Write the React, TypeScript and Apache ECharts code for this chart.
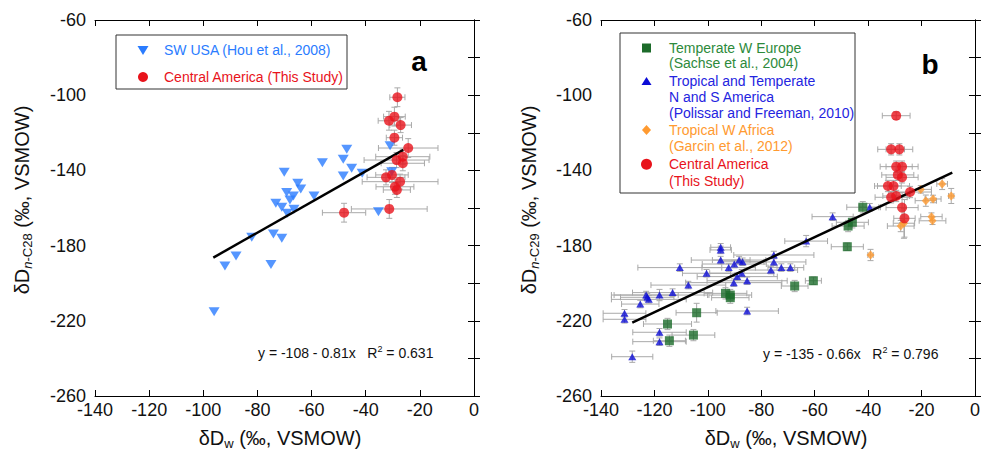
import React, { useEffect, useRef } from "react";
import * as echarts from "echarts";

// ---------- Data ----------
// Panel a: SW USA (Hou et al., 2008) [dDw, dD n-C28]
const swUsaA: number[][] = [
  [-47.0, -128.8], [-48.3, -134.1], [-56.0, -135.9], [-45.2, -138.9], [-70.1, -141.0],
  [-48.3, -143.0], [-41.3, -141.5], [-31.0, -126.9], [-30.4, -140.7], [-65.1, -146.9],
  [-64.0, -149.9], [-69.2, -151.8], [-66.7, -153.6], [-68.0, -155.7], [-59.1, -153.6],
  [-73.2, -157.5], [-71.0, -159.6], [-66.5, -160.7], [-69.0, -162.8], [-35.3, -162.0],
  [-82.1, -175.6], [-74.1, -173.8], [-71.0, -176.1], [-87.9, -185.5], [-92.0, -190.9],
  [-75.0, -190.0], [-96.0, -215.2],
];
// Panel a: Central America (This Study) [x, y, xErr, yErr]
const centralA: number[][] = [
  [-28.3, -101.1, 2.8, 5], [-31.4, -113.6, 4, 5], [-29.4, -111.4, 4, 5], [-27.1, -115.9, 4, 4],
  [-29.4, -122.6, 3, 4], [-24.3, -128.1, 11, 5], [-28.6, -134.5, 12, 4], [-26.3, -132.7, 10, 4],
  [-26.3, -136.2, 8, 4], [-32.5, -143.7, 7, 4], [-30.3, -142.4, 6, 4], [-27.3, -146.0, 14, 4],
  [-29.2, -148.7, 7, 4], [-28.5, -150.4, 5, 4], [-48.0, -162.5, 8, 5], [-31.3, -160.5, 14, 5],
];
const lineA: number[][] = [[-96.3, -186.4], [-26.1, -129.1]];

// Panel b: Temperate W Europe (Sachse et al., 2004) [x, y, xErr, yErr]
const europeB: number[][] = [
  [-93.4, -205.4, 8, 3], [-91.6, -206.3, 8, 3], [-91.6, -207.7, 7, 3], [-104.2, -215.7, 7.7, 5],
  [-115.1, -221.7, 9, 3], [-105.4, -227.6, 8, 3], [-114.4, -230.6, 6, 3], [-67.5, -201.5, 5, 3],
  [-60.5, -198.7, 3, 2], [-42.0, -159.6, 6, 3], [-45.9, -167.6, 6, 3], [-47.5, -169.6, 6, 3],
  [-47.8, -180.6, 6, 2],
];
// Panel b: Tropical and Temperate N and S America (Polissar and Freeman, 2010)
const americasB: number[][] = [
  [-95.2, -180.9, 3.7, 2], [-95.2, -182.3, 4, 2], [-95.2, -187.7, 11, 2], [-110.5, -191.7, 15.7, 2],
  [-92.2, -191.7, 10, 2], [-90.1, -189.8, 12, 2], [-88.3, -187.7, 10, 2], [-87.0, -188.6, 8, 2],
  [-100.5, -194.7, 9, 2], [-89.0, -196.5, 15, 2], [-87.3, -194.7, 12, 2], [-90.3, -199.7, 18, 2],
  [-85.3, -198.7, 15, 2], [-75.3, -185.0, 15, 2], [-75.3, -188.7, 12, 2], [-76.4, -193.0, 10, 2],
  [-72.5, -191.7, 5, 2], [-69.1, -191.7, 5, 2], [-107.3, -201.0, 14, 2], [-113.2, -205.0, 15, 2],
  [-118.1, -206.3, 18, 3], [-123.1, -206.3, 12, 2], [-122.7, -207.5, 10, 2], [-122.1, -208.6, 14, 2],
  [-125.3, -211.1, 7, 2], [-131.2, -216.0, 8, 2], [-131.2, -219.2, 8, 2], [-85.3, -214.8, 11.7, 2],
  [-118.1, -226.1, 10, 2], [-118.1, -231.1, 10, 2], [-128.3, -239.1, 7.7, 3], [-53.3, -164.6, 7.7, 2],
  [-39.4, -159.6, 4, 2], [-63.2, -177.6, 8, 3],
];
// Panel b: Tropical W Africa (Garcin et al., 2012)
const africaB: number[][] = [
  [-20.3, -150.1, 4, 2], [-12.3, -147.2, 2, 3], [-8.9, -153.6, 1, 4], [-18.4, -156.1, 4, 3],
  [-15.7, -155.2, 3, 2], [-16.3, -164.6, 4, 2], [-15.9, -166.8, 5, 2], [-27.8, -169.6, 5, 3],
  [-26.6, -168.1, 4, 8], [-39.1, -185.0, 1, 3],
];
// Panel b: Central America (This Study)
const centralB: number[][] = [
  [-29.5, -110.9, 5.2, 2], [-31.4, -128.8, 5, 3], [-28.3, -128.8, 5, 3], [-29.5, -138.0, 6, 3],
  [-27.3, -138.0, 6, 3], [-27.3, -143.7, 6, 3], [-28.9, -142.4, 6, 3], [-32.6, -148.3, 5, 3],
  [-30.5, -148.3, 6, 3], [-31.4, -154.3, 6, 3], [-29.5, -153.6, 5, 3], [-24.3, -151.5, 8, 3],
  [-27.3, -159.8, 6, 8], [-26.4, -165.5, 4, 10],
];
const lineB: number[][] = [[-128.3, -221.0], [-8.5, -141.2]];

const xTicks = { min: -140, max: 0, interval: 20 };
const yTicks = { min: -260, max: -60, interval: 20, labelStep: 40 };

const FONT = 'Arial, "Liberation Sans", Helvetica, sans-serif';
const C_BLUE_A = "#2a7cff";
const C_RED = "#e8131b";
const C_GREEN = "#1c6b2a";
const C_GREEN_T = "#2d8a3b";
const C_BLUE_B = "#0c0cd6";
const C_BLUE_BT = "#2424e0";
const C_ORANGE = "#ff9a30";
const C_ERR = "#a9a9a9";

function errorSeries(data: number[][], axisIndex: number) {
  return {
    type: "custom",
    xAxisIndex: axisIndex * 2,
    yAxisIndex: axisIndex * 2,
    silent: true,
    z: 1,
    encode: { x: 0, y: 1 },
    data: data.map((d) => [d[0], d[1], d[2], d[3]]),
    renderItem: (params: any, api: any) => {
      const x = api.value(0), y = api.value(1), xe = api.value(2), ye = api.value(3);
      const l = api.coord([x - xe, y]);
      const r = api.coord([x + xe, y]);
      const t = api.coord([x, y + ye]);
      const b = api.coord([x, y - ye]);
      const cap = 3;
      const style = { stroke: C_ERR, lineWidth: 1 };
      const ln = (x1: number, y1: number, x2: number, y2: number) => ({
        type: "line", shape: { x1, y1, x2, y2 }, style,
      });
      return {
        type: "group",
        children: [
          ln(l[0], l[1], r[0], r[1]),
          ln(l[0], l[1] - cap, l[0], l[1] + cap),
          ln(r[0], r[1] - cap, r[0], r[1] + cap),
          ln(t[0], t[1], b[0], b[1]),
          ln(t[0] - cap, t[1], t[0] + cap, t[1]),
          ln(b[0] - cap, b[1], b[0] + cap, b[1]),
        ],
      };
    },
  };
}

function axesFor(gridIndex: number) {
  const base = {
    gridIndex,
    axisLine: { lineStyle: { color: "#000", width: 1 } },
    axisTick: { inside: true, length: 6, lineStyle: { color: "#000" } },
    splitLine: { show: false },
  };
  const xs = [
    {
      ...base, type: "value", position: "bottom", ...xTicks,
      axisLabel: { fontFamily: FONT, fontSize: 18, color: "#111", margin: 5 },
    },
    { ...base, type: "value", position: "top", ...xTicks, axisLabel: { show: false } },
  ];
  const ys = [
    {
      ...base, type: "value", position: "left",
      min: yTicks.min, max: yTicks.max, interval: yTicks.interval,
      axisLabel: {
        fontFamily: FONT, fontSize: 18, color: "#111", margin: 9,
        formatter: (v: number) => ((v - yTicks.min) % yTicks.labelStep === 0 ? String(v) : ""),
      },
    },
    {
      ...base, type: "value", position: "right",
      min: yTicks.min, max: yTicks.max, interval: yTicks.interval, axisLabel: { show: false },
    },
  ];
  return { xs, ys };
}

function richTitle(x: number, y: number, sub: string, italicN: boolean, rotate: boolean) {
  const text = italicN
    ? `{m|δD}{si|n}{s|${sub}}{m| (‰, VSMOW)}`
    : `{m|δD}{s|${sub}}{m| (‰, VSMOW)}`;
  return {
    type: "text",
    x, y,
    rotation: rotate ? Math.PI / 2 : 0,
    style: {
      text,
      align: "center",
      verticalAlign: "middle",
      rich: {
        m: { fontFamily: FONT, fontSize: 20, fill: "#111", lineHeight: 24 },
        s: { fontFamily: FONT, fontSize: 13, fill: "#111", lineHeight: 13, verticalAlign: "bottom" },
        si: { fontFamily: FONT, fontSize: 13, fontStyle: "italic", fill: "#111", lineHeight: 13, verticalAlign: "bottom" },
      },
    },
  };
}

function eqText(x: number, y: number, eq: string, r2: string) {
  return {
    type: "text",
    x, y,
    style: {
      text: `{m|${eq}   R}{p|2}{m| = ${r2}}`,
      align: "left",
      verticalAlign: "middle",
      rich: {
        m: { fontFamily: FONT, fontSize: 14, fill: "#111", lineHeight: 18 },
        p: { fontFamily: FONT, fontSize: 9, fill: "#111", lineHeight: 9, verticalAlign: "top" },
      },
    },
  };
}

function legText(x: number, y: number, text: string, fill: string) {
  return {
    type: "text", x, y,
    style: { text, fill, fontFamily: FONT, fontSize: 14, verticalAlign: "middle", align: "left" },
  };
}

export default function App() {
  const ref = useRef<HTMLDivElement>(null);
  useEffect(() => {
    if (!ref.current) return;
    const chart = echarts.init(ref.current, undefined, { renderer: "svg" });
    const a = axesFor(0);
    const b = axesFor(1);
    const option: any = {
      animation: false,
      backgroundColor: "#fff",
      grid: [
        { left: 95, top: 20, width: 379, height: 376 },
        { left: 601, top: 20, width: 378, height: 376 },
      ],
      xAxis: [...a.xs, ...b.xs],
      yAxis: [...a.ys, ...b.ys],
      series: [
        // panel a
        errorSeries(centralA, 0),
        {
          type: "scatter", name: "SW USA", xAxisIndex: 0, yAxisIndex: 0, z: 2,
          symbol: "triangle", symbolRotate: 180, symbolSize: [11, 9],
          itemStyle: { color: C_BLUE_A }, data: swUsaA,
        },
        {
          type: "line", xAxisIndex: 0, yAxisIndex: 0, z: 3, symbol: "none",
          lineStyle: { color: "#000", width: 2.5 }, data: lineA,
        },
        {
          type: "scatter", name: "Central America", xAxisIndex: 0, yAxisIndex: 0, z: 4,
          symbol: "circle", symbolSize: 10, itemStyle: { color: C_RED },
          data: centralA.map((d) => [d[0], d[1]]),
        },
        // panel b
        errorSeries(europeB, 1),
        errorSeries(americasB, 1),
        errorSeries(africaB, 1),
        errorSeries(centralB, 1),
        {
          type: "scatter", xAxisIndex: 2, yAxisIndex: 2, z: 2,
          symbol: "triangle", symbolSize: [8, 7], itemStyle: { color: C_BLUE_B },
          data: americasB.map((d) => [d[0], d[1]]),
        },
        {
          type: "scatter", xAxisIndex: 2, yAxisIndex: 2, z: 2,
          symbol: "rect", symbolSize: 9, itemStyle: { color: C_GREEN },
          data: europeB.map((d) => [d[0], d[1]]),
        },
        {
          type: "scatter", xAxisIndex: 2, yAxisIndex: 2, z: 2,
          symbol: "diamond", symbolSize: [8, 9], itemStyle: { color: C_ORANGE },
          data: africaB.map((d) => [d[0], d[1]]),
        },
        {
          type: "line", xAxisIndex: 2, yAxisIndex: 2, z: 3, symbol: "none",
          lineStyle: { color: "#000", width: 2.5 }, data: lineB,
        },
        {
          type: "scatter", xAxisIndex: 2, yAxisIndex: 2, z: 4,
          symbol: "circle", symbolSize: 10, itemStyle: { color: C_RED },
          data: centralB.map((d) => [d[0], d[1]]),
        },
      ],
      graphic: [
        // legend a
        { type: "rect", shape: { x: 116, y: 35, width: 231, height: 54 }, style: { fill: "#fff", stroke: "#333", lineWidth: 1 }, z: 10 },
        { type: "polygon", shape: { points: [[137.5, 46], [148.5, 46], [143, 55]] }, style: { fill: C_BLUE_A }, z: 11 },
        legText(164, 50, "SW USA (Hou et al., 2008)", C_BLUE_A),
        { type: "circle", shape: { cx: 143, cy: 77, r: 5 }, style: { fill: C_RED }, z: 11 },
        legText(164, 77, "Central America (This Study)", C_RED),
        { type: "text", x: 419, y: 61, style: { text: "a", fontFamily: FONT, fontSize: 28, fontWeight: "bold", fill: "#000", align: "center", verticalAlign: "middle" }, z: 11 },
        // legend b
        { type: "rect", shape: { x: 620, y: 33, width: 235, height: 160 }, style: { fill: "#fff", stroke: "#333", lineWidth: 1 }, z: 10 },
        { type: "rect", shape: { x: 642, y: 43.5, width: 9, height: 9 }, style: { fill: C_GREEN }, z: 11 },
        legText(669, 47.7, "Temperate W Europe", C_GREEN_T),
        legText(669, 63.3, "(Sachse et al., 2004)", C_GREEN_T),
        { type: "polygon", shape: { points: [[641.5, 85], [651.5, 85], [646.5, 77]] }, style: { fill: C_BLUE_B }, z: 11 },
        legText(669, 81, "Tropical and Temperate", C_BLUE_BT),
        legText(669, 97, "N and S America", C_BLUE_BT),
        legText(669, 113, "(Polissar and Freeman, 2010)", C_BLUE_BT),
        { type: "polygon", shape: { points: [[646.5, 125], [651, 130], [646.5, 135], [642, 130]] }, style: { fill: C_ORANGE }, z: 11 },
        legText(669, 130, "Tropical W Africa", C_ORANGE),
        legText(669, 146, "(Garcin et al., 2012)", C_ORANGE),
        { type: "circle", shape: { cx: 646.5, cy: 164.3, r: 5.5 }, style: { fill: C_RED }, z: 11 },
        legText(669, 164.3, "Central America", C_RED),
        legText(669, 180.7, "(This Study)", C_RED),
        { type: "text", x: 930, y: 64, style: { text: "b", fontFamily: FONT, fontSize: 28, fontWeight: "bold", fill: "#000", align: "center", verticalAlign: "middle" }, z: 11 },
        // equations
        eqText(258, 353, "y = -108 - 0.81x", "0.631"),
        eqText(763, 354, "y = -135 - 0.66x", "0.796"),
        // axis titles
        richTitle(280, 438, "w", false, false),
        richTitle(786, 438, "w", false, false),
        richTitle(22, 200, "-C28", true, true),
        richTitle(529, 200, "-C29", true, true),
      ].map((g: any) => ({ z: 11, ...g })),
    };
    chart.setOption(option);
    return () => chart.dispose();
  }, []);
  return (
    <div
      ref={ref}
      style={{ position: "absolute", left: 0, top: 0, width: 983, height: 458, background: "#fff" }}
    />
  );
}
